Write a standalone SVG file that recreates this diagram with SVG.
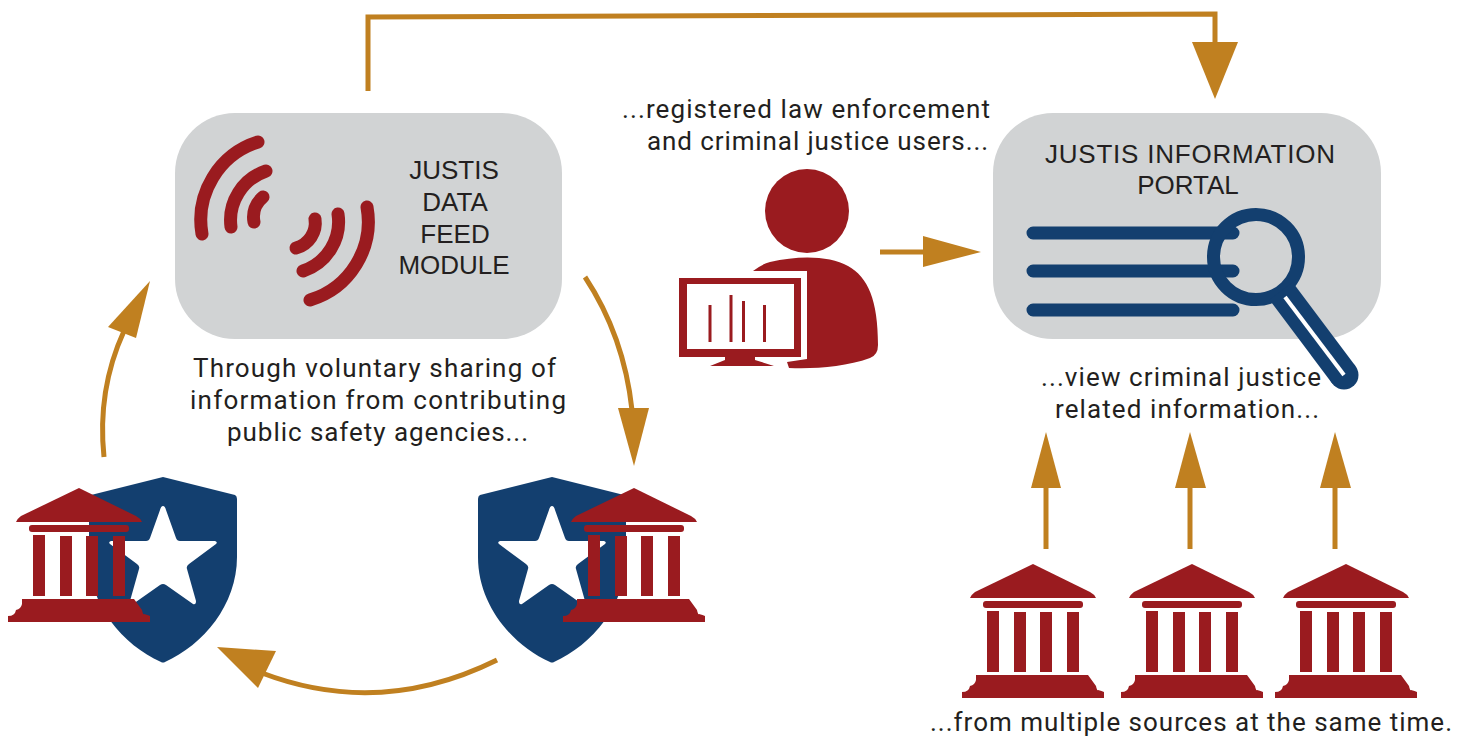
<svg xmlns="http://www.w3.org/2000/svg" xmlns:xlink="http://www.w3.org/1999/xlink" width="1468" height="736" viewBox="0 0 1468 736">
<style>
.t{font-family:"Roboto","Liberation Sans",sans-serif;font-size:26px;fill:#231f20}
.a{font-family:"Liberation Sans",Arial,sans-serif;font-size:26px;fill:#231f20}
.box{fill:#d1d3d4}
.red{fill:#9a1b1f}
.blue{fill:#133f6f}
.wave{fill:none;stroke:#9a1b1f;stroke-width:13;stroke-linecap:round}
.nav{fill:none;stroke:#133f6f;stroke-width:13;stroke-linecap:round}
.c{fill:none;stroke:#c08020;stroke-width:5}
.h{fill:#c08020}
</style>
<defs>
<g id="bank" class="red">
<path d="M0 0L57 28Q61 30 63 34L-63 34Q-61 30 -58 28Z"/>
<rect x="-50" y="37" width="100" height="7" rx="3"/>
<rect x="-46" y="47" width="12" height="61"/>
<rect x="-19" y="48" width="12" height="60"/>
<rect x="7" y="48" width="12" height="60"/>
<rect x="34" y="48" width="12" height="60"/>
<path d="M-57 111L55 111L63 122Q64 127 65 126Q69 127 71 128L71 134L-71 134L-71 128Q-64 128 -63 122Q-58 121 -57 116Z"/>
</g>
<g id="shield">
<path class="blue" d="M0 0L72 18Q74 19 74 22L74 80C74 128 40 168 2 185Q0 186 -2 185C-40 168 -74 128 -74 80L-74 22Q-74 19 -72 18Z"/>
<path fill="#fff" d="M0 29Q2 29 3 33L13 61Q14 64 17 64L52 64Q55 65 53 67L26 87Q23 89 24 92L33 124Q33 128 30 127L3 108Q0 106 -3 108L-30 127Q-33 128 -33 124L-24 92Q-23 89 -26 87L-53 67Q-55 65 -52 64L-17 64Q-14 64 -13 61L-3 33Q-2 29 0 29Z"/>
</g>
</defs>

<g id="connectors">
<path class="c" d="M368 91L368 17L1215 14L1215 45"/>
<path class="h" d="M1192 42L1238 42L1215 99Z"/>
<path class="c" d="M880 252L926 252"/>
<path class="h" d="M923 236L981 252L923 267Z"/>
<path class="c" d="M1046 549L1046 486"/>
<path class="h" d="M1031 488L1061 488L1046 432Z"/>
<path class="c" d="M1190 549L1190 486"/>
<path class="h" d="M1175 488L1206 488L1190 432Z"/>
<path class="c" d="M1335 549L1335 486"/>
<path class="h" d="M1320 488L1351 488L1335 432Z"/>
<path class="c" d="M585 277Q624 336 632 410"/>
<path class="h" d="M618 408L649 408L634 466Z"/>
<path class="c" d="M104 457Q97 390 124 331"/>
<path class="h" d="M108 327L150 281L136 338Z"/>
<path class="c" d="M497 660Q380 718 262 673"/>
<path class="h" d="M276 651L217 647L258 688Z"/>
</g>

<g id="data-feed-module">
<rect class="box" x="175" y="113" width="387" height="226" rx="60"/>
<path class="wave" d="M258 142A82 82 0 0 0 202 234"/>
<path class="wave" d="M266 171A52 52 0 0 0 231 227"/>
<path class="wave" d="M263 197A26 26 0 0 0 254 222"/>
<path class="wave" d="M296 248A26 26 0 0 0 315 219"/>
<path class="wave" d="M303 271A52 52 0 0 0 338 214"/>
<path class="wave" d="M310 300A82 82 0 0 0 367 207"/>
<text class="a" x="454" y="179" text-anchor="middle">JUSTIS</text>
<text class="a" x="455" y="211" text-anchor="middle">DATA</text>
<text class="a" x="455" y="243" text-anchor="middle">FEED</text>
<text class="a" x="454" y="274" text-anchor="middle">MODULE</text>
</g>

<g id="sharing-label">
<text class="t" x="193" y="377" textLength="363">Through voluntary sharing of</text>
<text class="t" x="190" y="409" textLength="376">information from contributing</text>
<text class="t" x="227" y="441" textLength="301">public safety agencies...</text>
</g>

<g id="users-label">
<text class="t" x="622" y="118" textLength="368">...registered law enforcement</text>
<text class="t" x="647" y="150" textLength="341">and criminal justice users...</text>
</g>

<g id="user">
<circle class="red" cx="807" cy="211" r="42"/>
<path class="red" d="M753 271Q762 264 770 262C800 255 830 256 848 266C868 277 878 300 878 345Q878 355 870 358C845 367 815 369 789 368L787 362L807 359L807 271Z"/>
<path class="red" d="M679 278H801V357H755V360L774 366H710L725 360V357H679Z"/>
<rect x="687" y="284" width="107" height="65" fill="#fff"/>
<rect class="red" x="708.500" y="305" width="3" height="37"/>
<rect class="red" x="729.500" y="295" width="3" height="47"/>
<rect class="red" x="742" y="301" width="3" height="41"/>
<rect class="red" x="763" y="305" width="3" height="37"/>
</g>

<g id="information-portal">
<rect class="box" x="993" y="113" width="388" height="226" rx="60"/>
<text class="a" x="1045" y="163" textLength="290">JUSTIS INFORMATION</text>
<text class="a" x="1188" y="194" text-anchor="middle">PORTAL</text>
<path class="nav" d="M1033 233H1233M1033 271H1233M1033 310H1233"/>
<circle cx="1256" cy="257" r="42.500" fill="none" stroke="#133f6f" stroke-width="13"/>
<path d="M1281 291L1344 375" stroke="#133f6f" stroke-width="29" fill="none"/>
<circle class="blue" cx="1344" cy="375" r="14.500"/>
<path d="M1285 297L1344 375" stroke="#fff" stroke-width="4" fill="none"/>
</g>

<g id="view-label">
<text class="t" x="1041" y="386" textLength="280">...view criminal justice</text>
<text class="t" x="1055" y="418" textLength="264">related information...</text>
</g>

<g id="agency-left">
<use href="#shield" xlink:href="#shield" x="163" y="477"/>
<use href="#bank" xlink:href="#bank" x="79" y="488"/>
</g>
<g id="agency-right">
<use href="#shield" xlink:href="#shield" x="552" y="477"/>
<use href="#bank" xlink:href="#bank" x="634" y="488"/>
</g>
<g id="source-1"><use href="#bank" xlink:href="#bank" x="1033" y="564"/></g>
<g id="source-2"><use href="#bank" xlink:href="#bank" x="1192" y="564"/></g>
<g id="source-3"><use href="#bank" xlink:href="#bank" x="1346" y="564"/></g>

<g id="sources-label">
<text class="t" x="930" y="730.500" textLength="522">...from multiple sources at the same time.</text>
</g>
</svg>
